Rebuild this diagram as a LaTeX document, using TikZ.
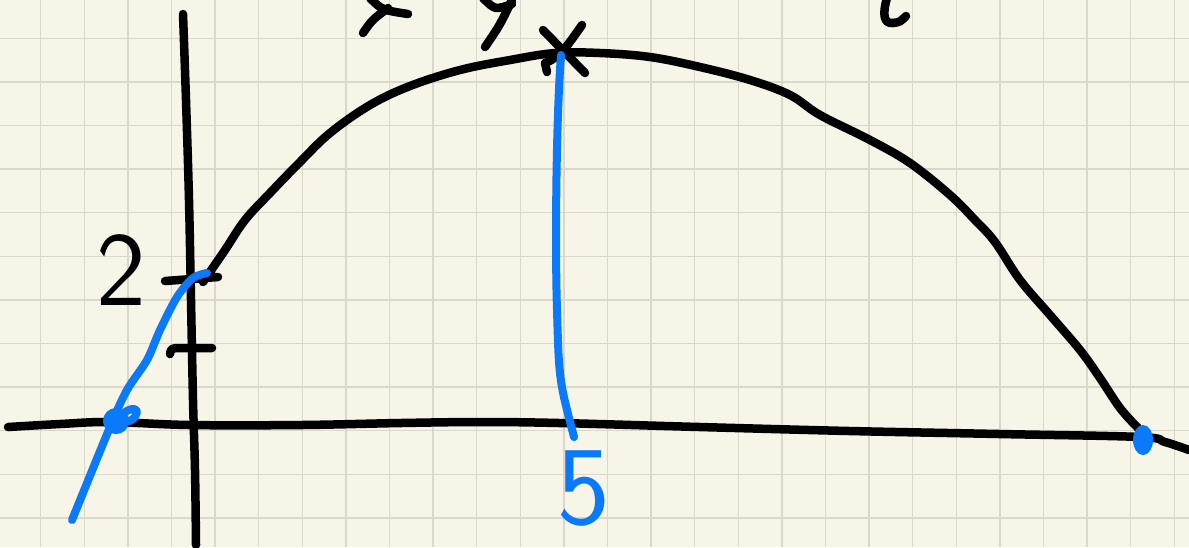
\documentclass[tikz,border=0pt]{standalone}
\usepackage{xcolor}
\definecolor{paper}{RGB}{247, 245, 232}
\definecolor{gridline}{RGB}{219, 216, 203}
\definecolor{penblue}{RGB}{10, 122, 250}
\usetikzlibrary{positioning, calc}

\begin{document}
\begin{tikzpicture}[x=0.01cm, y=-0.01cm,
        ink/.style={draw=black, line width=0.085cm, line cap=round, line join=round},
        blueink/.style={draw=penblue, line width=0.08cm, line cap=round, line join=round},
        digit/.style={inner sep=0pt, font=\sffamily\fontsize{30}{30}\selectfont}]

    % paper and grid
    \fill[paper] (0,0) rectangle (1189,547);
    \useasboundingbox (0,0) rectangle (1189,547);
    \foreach \gx in {0,...,26}
        \draw[gridline, line width=0.015cm] ({40.7+43.6*\gx},0) -- ({40.7+43.6*\gx},547);
    \foreach \gy in {0,...,11}
        \draw[gridline, line width=0.015cm] (0,{38.3+43.6*\gy}) -- (1189,{38.3+43.6*\gy});

    % named points
    \coordinate (vertex) at (561,55);
    \coordinate (yint) at (207,273);
    \coordinate (xleft) at (116,421);
    \coordinate (xright) at (1143,440);
    \coordinate (foot) at (574,437);
    \coordinate (tail) at (72,520);

    % axes
    \draw[ink] plot[smooth, tension=0.6] coordinates {(8,427) (60,424) (110,422) (190,425) (300,425) (400,423) (480,422) (560,423) (700,427) (850,431) (1000,434) (1140,437) (1165,442) (1189,450)};
    \draw[ink] plot[smooth, tension=0.6] coordinates {(183,14) (186,100) (189,200) (191,300) (193,400) (195,470) (196,545)};

    % ticks
    \draw[ink] (165,281) -- (218,277);
    \draw[ink] (170,354) .. controls (171,349) .. (176,348) -- (212,348);

    % parabola
    \draw[ink] plot[smooth, tension=0.6] coordinates {(203,282) (225,250) (245,220) (270,193) (300,162) (330,133) (370,105) (410,86) (460,70) (510,60) (555,53) (600,53) (650,57) (700,67) (750,80) (790,95) (820,115) (870,140) (910,163) (950,195) (975,220) (995,242) (1020,280) (1050,315) (1080,350) (1100,378) (1120,408) (1138,428)};

    % cross at the vertex
    \draw[ink] (543,30) -- (585,73);
    \draw[ink] (582,25) .. controls (570,42) .. (562,52) .. controls (552,60) .. (545,63) -- (547,72);

    % cut-off strokes at the top edge
    \draw[ink] (363,33) .. controls (372,20) .. (388,8);
    \draw[ink] (370,-2) .. controls (382,10) .. (408,14);
    \draw[ink] (485,47) .. controls (500,25) .. (512,0);
    \draw[ink] (483,-2) .. controls (495,10) .. (512,4);
    \draw[ink] (887,-2) .. controls (882,15) and (884,24) .. (893,23) .. controls (900,22) .. (906,16);

    % blue lines
    \draw[blueink] (vertex) .. controls (556,120) and (555,250) .. (557,310) .. controls (559,380) .. (foot);
    \draw[blueink] plot[smooth, tension=0.5] coordinates {(tail) (110,427) (127,390) (147,360) (160,330) (177,297) (193,278) (yint)};

    % intercept marks
    \draw[blueink] (xleft) circle (9);
    \draw[blueink] (110,427) .. controls (122,410) and (136,405) .. (137,412) .. controls (134,420) .. (118,424);
    \draw[penblue, fill=penblue, line width=0.02cm] (xright) ellipse (9 and 14);

    % labels
    \node[digit] (two) at (121,270) {2};
    \node[digit, text=penblue, font=\sffamily\fontsize{32}{32}\selectfont] (five) at (584,488) {5};
\end{tikzpicture}
\end{document}
